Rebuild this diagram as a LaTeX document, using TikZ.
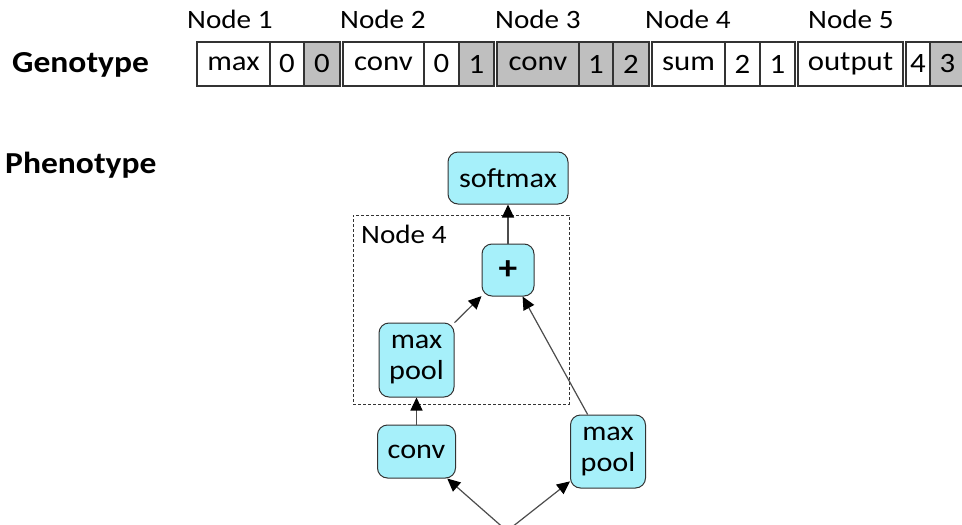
\documentclass[tikz,border=0pt]{standalone}
\usepackage{fontspec}
\setmainfont[FakeStretch=1.1]{Carlito}
\usepackage{tikz}
\usetikzlibrary{positioning, arrows.meta}

\definecolor{boxcyan}{RGB}{166,240,250}
\definecolor{cellgrey}{RGB}{191,191,191}

\begin{document}
\begin{tikzpicture}[
  x=1pt, y=-1pt,
  cell/.style={draw=black!80,line width=1.1pt,minimum height=44pt,inner sep=0pt,outer sep=0pt,
    font=\fontsize{28}{33}\selectfont},
  greycell/.style={cell,fill=cellgrey},
  lbl/.style={inner sep=0pt,font=\fontsize{26.5}{31}\selectfont},
  title/.style={inner sep=0pt,font=\fontsize{30.5}{35}\selectfont\bfseries},
  layer/.style={draw=black!80,line width=1pt,rounded corners=10pt,fill=boxcyan,align=center,
    minimum width=52pt,minimum height=52pt,inner sep=2pt,font=\fontsize{27.5}{31}\selectfont},
  arr/.style={-{Triangle[length=13pt,width=12pt,color=black]},draw=black!70,line width=1.2pt}
]
\useasboundingbox (0,0) rectangle (962,525);

% genotype
\node[title,anchor=base west] (geno) at (12,72) {Genotype};

\node[cell,minimum width=73pt] (a1) at (233.5,64) {max};
\node[cell,minimum width=34pt,right=0pt of a1] (a2) {0};
\node[greycell,minimum width=36pt,right=0pt of a2] (a3) {0};

\node[cell,minimum width=81pt,right=3pt of a3] (b1) {conv};
\node[cell,minimum width=35pt,right=0pt of b1] (b2) {0};
\node[greycell,minimum width=35pt,right=0pt of b2] (b3) {1};

\node[greycell,minimum width=82pt,right=3pt of b3] (c1) {conv};
\node[greycell,minimum width=34pt,right=0pt of c1] (c2) {1};
\node[greycell,minimum width=36pt,right=0pt of c2] (c3) {2};

\node[cell,minimum width=73pt,right=3pt of c3] (d1) {sum};
\node[cell,minimum width=35pt,right=0pt of d1] (d2) {2};
\node[cell,minimum width=35pt,right=0pt of d2] (d3) {1};

\node[cell,minimum width=105pt,right=3pt of d3] (e1) {output};
\node[cell,minimum width=24pt,right=3pt of e1] (e2) {4};
\node[greycell,minimum width=35pt,right=0pt of e2] (e3) {3};

\node[lbl,anchor=base west] (n1) at (187,28) {Node 1};
\node[lbl,anchor=base west] (n2) at (340,28) {Node 2};
\node[lbl,anchor=base west] (n3) at (495,28) {Node 3};
\node[lbl,anchor=base west] (n4) at (645,28) {Node 4};
\node[lbl,anchor=base west] (n5) at (808,28) {Node 5};

% phenotype
\node[title,anchor=base west] (pheno) at (5,173) {Phenotype};

\node[draw=black!80,dash pattern=on 3pt off 2pt,line width=0.8pt,minimum width=216pt,minimum height=189pt] (grp) at (461,309.5) {};
\node[lbl,anchor=base west] (grplbl) at (361,243) {Node 4};

\node[layer,minimum width=120pt] (soft) at (508,178) {softmax};
\node[layer,below=39pt of soft] (plus) {\fontsize{34}{34}\selectfont\textbf{+}};
\node[layer,minimum width=75pt,minimum height=74pt] (pool1) at (416.5,360) {max\\pool};
\node[layer,minimum width=78pt,minimum height=53pt,below=27pt of pool1] (conv) {conv};
\node[layer,minimum width=75pt,minimum height=73pt,right=114pt of conv] (pool2) {max\\pool};
\coordinate (in) at (507,531);

\path (plus) edge[arr] (soft)
(pool1) edge[arr] (plus)
(pool2) edge[arr] (plus)
(conv) edge[arr] (pool1);

\path (in) edge[arr] (conv)
(in) edge[arr] (pool2);

\end{tikzpicture}
\end{document}
